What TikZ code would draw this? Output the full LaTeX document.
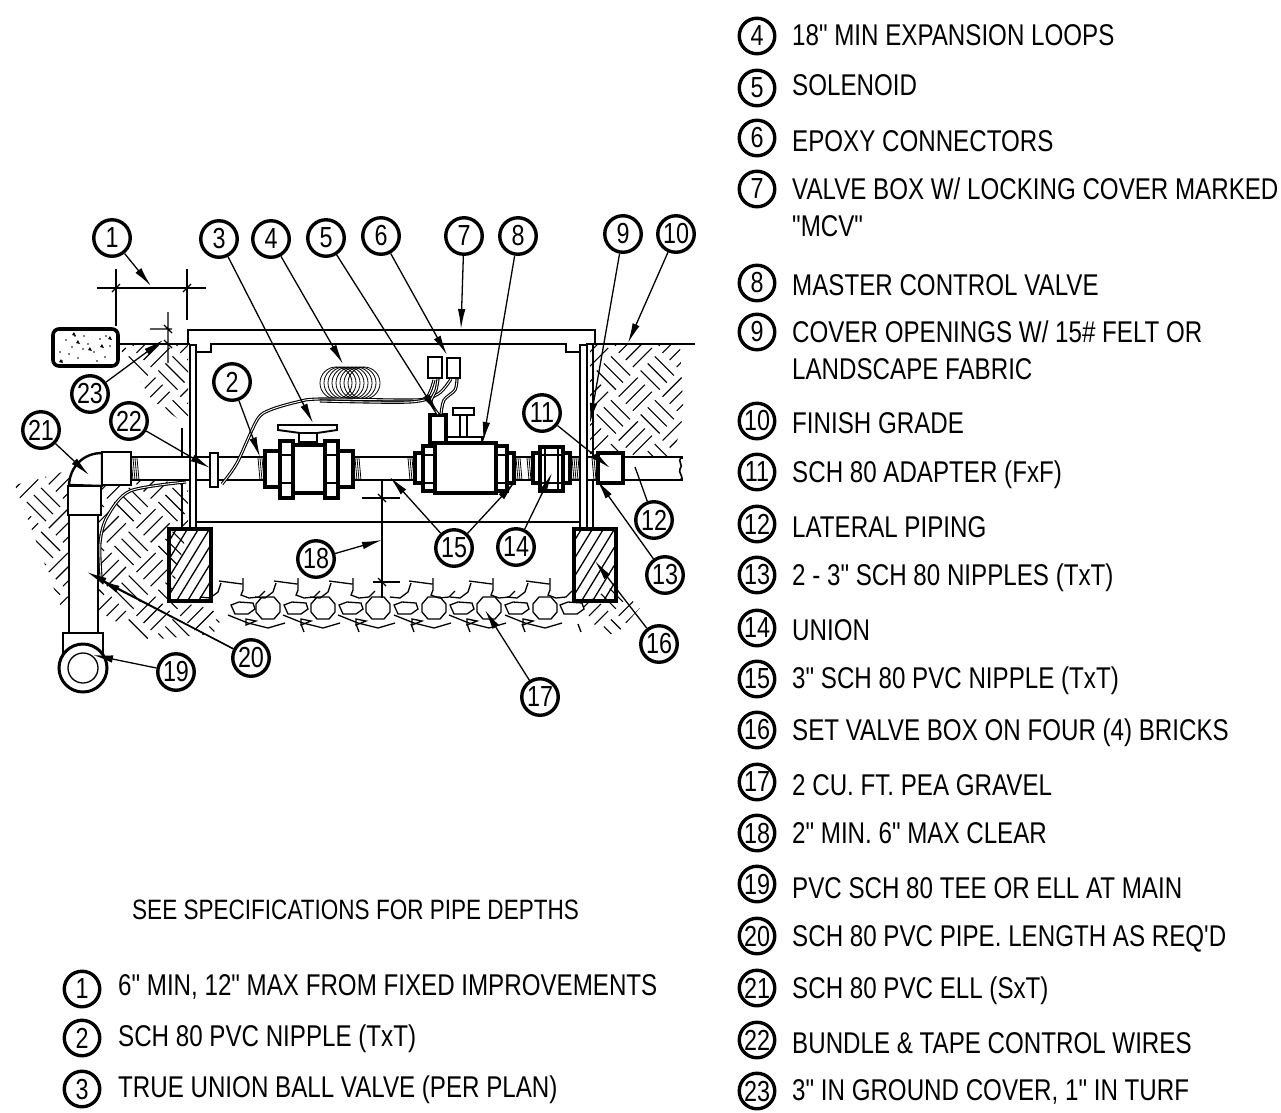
\documentclass[tikz,border=0pt]{standalone}
\usepackage{fontspec}
\setmainfont[FakeStretch=0.805,Ligatures=TeXOff]{Liberation Sans}
\usetikzlibrary{arrows.meta}
\tikzset{
	callout/.style={circle, draw, fill=white, line width=3.4pt, minimum size=36.5pt, inner sep=0pt, font=\fontsize{29}{29}\selectfont},
	legendmark/.style={circle, draw, fill=white, line width=3.4pt, minimum size=35.5pt, inner sep=0pt, font=\fontsize{29}{29}\selectfont},
	legendtext/.style={anchor=base west, align=left, inner sep=0pt, font=\fontsize{30}{37}\selectfont},
	leader/.style={line width=1.3pt, -{Latex[length=20pt,width=7.5pt]}},
	plainleader/.style={line width=1.3pt},
	body/.style={draw, fill=white, line width=3.2pt},
	pipewall/.style={draw, fill=white, line width=2.4pt},
	slimline/.style={line width=1.3pt},
	hatchline/.style={line width=1.1pt},
	medline/.style={line width=1.9pt},
	wirepair/.style={double, double distance=.9pt, line width=1.1pt}
}
\newcommand{\threadmark}[2]{
	\foreach \tx in {0,2,...,#2}
		\draw[line width=.8pt] (#1+\tx,458) -- (#1+\tx+2,480);
}
\begin{document}
\begin{tikzpicture}[x=1pt,y=-1pt]
	\useasboundingbox (0,0) rectangle (1281,1112);

	% soil
	\begin{scope}
		\clip (118,345) -- (188,345) -- (188,426) -- (152,400) -- cycle
			(15,485) -- (70,470) -- (188,484) -- (188,528) -- (170,600) -- (225,612) -- (213,634) -- (147,640) -- (100,612) -- (62,610) -- cycle
			(590,345) -- (680,345) -- (684,420) -- (672,456) -- (590,456) -- cycle
			(616,585) -- (640,608) -- (620,630) -- (603,638) -- (582,605) -- cycle;
		\foreach \i in {-15,...,8}
			\foreach \j in {7,...,31}{
				\pgfmathtruncatemacro{\cellkind}{mod(\i+\j+40,2)}
				\begin{scope}[rotate=45,shift={(\i*31,\j*31)}]
					\ifnum\cellkind=0
						\foreach \k in {5,15,25}
							\draw[hatchline] (2,\k) -- (29,\k);
					\else
						\foreach \k in {5,15,25}
							\draw[hatchline] (\k,2) -- (\k,29);
					\fi
				\end{scope}
			}
	\end{scope}

	% gravel
	\foreach \ox in {268,323,378,434,489,545}{
		\draw[slimline] (\ox-12,604) -- (\ox-6,597) -- (\ox+6,597) -- (\ox+12,604) -- (\ox+12,612) -- (\ox+6,619) -- (\ox-6,619) -- (\ox-12,612) -- cycle;
		\draw[slimline] (\ox-40,615) -- (\ox-20,623) -- (\ox,628) -- (\ox+17,623);
		\draw[slimline] (\ox+33,624) -- (\ox+36,632);
		\draw[slimline] (\ox-22,619) -- (\ox-12,621) -- (\ox-22,625) -- cycle;
	}
	\foreach \lx in {243,296,351,406,462,517,572}
		\draw[slimline] (\lx-12,605) -- (\lx-4,602) -- (\lx+10,603) -- (\lx+12,609) -- (\lx+5,614) -- (\lx-8,614) -- cycle;
	\foreach \sx in {213,268,323,403,463,520}
		\draw[slimline] (\sx-13,597) -- (\sx-3,598) -- (\sx+5,592) -- (\sx+8,583) (\sx+6,581) -- (\sx+29,584) (\sx+30,578) -- (\sx+30,590) -- (\sx+28,595) -- (\sx+36,598) -- (\sx+46,597) -- (\sx+52,591);

	% grade and valve box
	\draw[medline] (118,344) -- (190,344);
	\draw[medline] (586,344) -- (695,344);
	\draw[medline] (188,344) -- (188,330) -- (595,330) -- (595,344);
	\draw[medline] (197,352) -- (211,352) -- (211,344) -- (566,344) -- (566,352) -- (580,352);
	\draw[medline] (197,522) -- (580,522);
	\draw[medline] (182,428) -- (182,458) (182,482) -- (182,528);
	\draw[medline] (593,345) -- (593,528);

	% paving block
	\draw[fill=white, line width=3.6pt, rounded corners=6pt] (53,329) rectangle (118,366);
	\foreach \dx/\dy in {60/352,66/340,72/347,78/358,84/336,88/344,94/352,100/339,105/357,110/346,75/336,97/361,62/361,83/349,69/354,106/336}
		\fill (\dx,\dy) circle (.9);
	\foreach \dx/\dy in {72/335,76/343,88/350,108/339,100/347,59/362}
		\fill (\dx,\dy) -- ++(4,1) -- ++(-2,-4) -- cycle;

	% vertical pipe and fittings
	\draw[pipewall] (69,485) .. controls (70,466) and (84,453) .. (102,453) -- (102,486) -- cycle;
	\draw[pipewall] (69,515) rectangle (98,633);
	\draw[pipewall] (68,486) rectangle (101,515);
	\draw[pipewall] (63,633) rectangle (103,656);
	\draw[line width=3pt, fill=white] (83,668) circle (24);
	\draw[slimline] (83,668) circle (15);

	% wire to the main
	\draw[wirepair] plot[smooth] coordinates {(186,482) (130,491) (107,517) (100,543) (101,577)};

	% horizontal pipe
	\draw[pipewall] (131,457) rectangle (682,480);
	\draw[line width=3.2pt, white] (681,459) -- (681,478);
	\draw[line width=1.6pt] (681,457) .. controls (677,462) and (684,465) .. (680,469) .. controls (678,473) and (684,476) .. (681,480);
	\draw[pipewall] (102,452) rectangle (131,485);
	\threadmark{131}{6}
	\draw[line width=2.6pt, fill=white] (210,453) rectangle (218,487);
	\threadmark{258}{4}
	\threadmark{353}{6}
	\threadmark{408}{6}
	\threadmark{514}{6}
	\threadmark{527}{6}
	\threadmark{570}{8}
	\threadmark{592}{6}

	% ball valve
	\draw[body] (265,451) rectangle (280,487);
	\draw[body] (338,451) rectangle (353,487);
	\draw[body] (280,441) rectangle (293,498);
	\draw[body] (325,441) rectangle (338,498);
	\draw[body] (293,445) rectangle (325,493);
	\draw[slimline] (280,455) -- (293,455) (325,455) -- (338,455) (280,483) -- (293,483) (325,483) -- (338,483);
	\draw[medline, fill=white] (299,433) rectangle (317,442);
	\draw[medline, fill=white] (278,425) -- (337,425) -- (337,430) -- (317,433) -- (300,433) -- (278,430) -- cycle;

	% master control valve
	\draw[body] (415,453) rectangle (423,483);
	\draw[body] (507,453) rectangle (514,483);
	\draw[body] (423,446) rectangle (435,491);
	\draw[body] (496,446) rectangle (507,491);
	\draw[slimline] (423,455) -- (435,455) (423,483) -- (435,483) (496,455) -- (507,455) (496,483) -- (507,483);
	\draw[medline, fill=white] (447,437) rectangle (482,443);
	\draw[medline, fill=white] (460,415) rectangle (467,437);
	\draw[medline, fill=white] (453,408) rectangle (474,415);
	\draw[body] (435,443) rectangle (496,493);
	\draw[body] (430,415) rectangle (446,443);

	% union and adapter
	\draw[body] (533,453) rectangle (540,483);
	\draw[body] (563,453) rectangle (570,483);
	\draw[body] (540,447) rectangle (563,491);
	\draw[slimline] (540,455) -- (563,455) (540,483) -- (563,483) (545,447) -- (545,491) (558,447) -- (558,491);
	\draw[body] (598,453) rectangle (623,483);

	% box walls and bricks
	\draw[line width=2.8pt, fill=white] (190,345) rectangle (196,529);
	\draw[line width=2.8pt, fill=white] (580,345) rectangle (587,529);
	\begin{scope}
		\clip (169,529) rectangle (211,601);
		\foreach \h in {-4,-3,...,6}
			\draw[slimline] (160+\h*11,610) -- (215+\h*11,520);
	\end{scope}
	\draw[line width=3.2pt] (169,529) rectangle (211,601);
	\begin{scope}
		\clip (574,529) rectangle (616,601);
		\foreach \h in {-4,-3,...,6}
			\draw[slimline] (565+\h*11,610) -- (620+\h*11,520);
	\end{scope}
	\draw[line width=3.2pt] (574,529) rectangle (616,601);

	% coil, connectors and wires
	\foreach \cx in {336,340,...,364}
		\draw[line width=.8pt] (\cx,383) circle (16);
	\draw[medline] (428,357) rectangle (442,378);
	\draw[medline] (447,358) rectangle (460,378);
	\draw[wirepair] plot[smooth] coordinates {(222,484) (237,463) (257,420) (270,410) (297,402) (320,399) (410,400) (427,397) (434,380)};
	\draw[wirepair] plot[smooth] coordinates {(320,401) (410,402) (438,394) (451,379)};
	\draw[wirepair] plot[smooth] coordinates {(438,414) (431,402) (436,390) (438,379)};
	\draw[wirepair] plot[smooth] coordinates {(441,414) (444,400) (455,390) (457,379)};

	% dimensions
	\draw[slimline] (97,288) -- (206,288) (116,269) -- (116,326) (187,269) -- (187,320);
	\draw[slimline] (112,292) -- (120,284) (183,292) -- (191,284);
	\draw[slimline] (168,312) -- (168,363) (150,329) -- (172,329) (164,325) -- (172,333) (164,340) -- (172,348);
	\draw[slimline] (382,480) -- (382,598) (362,498) -- (400,498) (373,582) -- (400,582);
	\draw[slimline] (378,494) -- (386,502) (378,578) -- (386,586);

	% tips of the leaders
	\coordinate (tip1) at (151,286);
	\coordinate (tip2) at (260,457);
	\coordinate (tip3) at (313,423);
	\coordinate (tip4) at (343,364);
	\coordinate (tip5) at (437,413);
	\coordinate (tip6) at (447,355);
	\coordinate (tip7) at (461,329);
	\coordinate (tip8) at (483,442);
	\coordinate (tip9) at (590,423);
	\coordinate (tip10) at (628,343);
	\coordinate (tip11) at (610,468);
	\coordinate (tip12) at (635,467);
	\coordinate (tip13) at (597,480);
	\coordinate (tip14) at (552,473);
	\coordinate (tip15a) at (390,477);
	\coordinate (tip15b) at (515,482);
	\coordinate (tip16) at (595,561);
	\coordinate (tip17) at (485,610);
	\coordinate (tip18) at (382,540);
	\coordinate (tip19) at (93,655);
	\coordinate (tip20a) at (87,572);
	\coordinate (tip20b) at (100,580);
	\coordinate (tip21) at (89,475);
	\coordinate (tip22) at (210,468);
	\coordinate (tip23) at (163,340);

	% callouts on the drawing
	\foreach \n/\x/\y in {1/112/238,2/232/382,3/219/239,4/271/239,5/326/238,6/381/236,7/464/236,8/518/236,9/623/234,10/676/234,11/542/413,12/654/520,13/665/575,14/516/547,15/454/548,16/659/644,17/540/697,18/316/559,19/176/672,20/251/658,21/41/430,22/129/421,23/90/394}
		\node[callout] (call\n) at (\x,\y) {\n};
	\foreach \n/\tp in {1/tip1,2/tip2,3/tip3,4/tip4,5/tip5,6/tip6,7/tip7,8/tip8,9/tip9,10/tip10,11/tip11,13/tip13,14/tip14,15/tip15a,15/tip15b,16/tip16,17/tip17,18/tip18,19/tip19,20/tip20a,20/tip20b,21/tip21,22/tip22,23/tip23}
		\draw[leader] (call\n) -- (\tp);
	\draw[plainleader] (call12) -- (tip12);

	% legend
	\foreach \n/\x/\y in {1/82/989,2/82/1038,3/82/1089,4/757/36,5/757/88,6/757/138,7/757/189,8/757/283,9/757/332,10/757/421,11/757/472,12/757/524,13/757/575,14/757/628,15/757/679,16/757/730,17/757/782,18/757/833,19/757/884,20/757/936,21/757/988,22/757/1040,23/757/1091}
		\node[legendmark] (item\n) at (\x,\y) {\n};
	\foreach \n/\x/\y/\lab in {
		1/118/995/{6" MIN, 12" MAX FROM FIXED IMPROVEMENTS},
		2/118/1046/{SCH 80 PVC NIPPLE (TxT)},
		3/118/1097/{TRUE UNION BALL VALVE (PER PLAN)},
		4/792/45/{18" MIN EXPANSION LOOPS},
		5/792/95/{SOLENOID},
		6/792/151/{EPOXY CONNECTORS},
		7/792/236/{VALVE BOX W/ LOCKING COVER MARKED\\"MCV"},
		8/792/295/{MASTER CONTROL VALVE},
		9/792/379/{COVER OPENINGS W/ 15\# FELT OR\\LANDSCAPE FABRIC},
		10/792/433/{FINISH GRADE},
		11/792/482/{SCH 80 ADAPTER (FxF)},
		12/792/537/{LATERAL PIPING},
		13/792/585/{2 - 3" SCH 80 NIPPLES (TxT)},
		14/792/640/{UNION},
		15/792/688/{3" SCH 80 PVC NIPPLE (TxT)},
		16/792/740/{SET VALVE BOX ON FOUR (4) BRICKS},
		17/792/795/{2 CU. FT. PEA GRAVEL},
		18/792/843/{2" MIN. 6" MAX CLEAR},
		19/792/898/{PVC SCH 80 TEE OR ELL AT MAIN},
		20/792/946/{SCH 80 PVC PIPE. LENGTH AS REQ'D},
		21/792/998/{SCH 80 PVC ELL (SxT)},
		22/792/1053/{BUNDLE \& TAPE CONTROL WIRES},
		23/792/1100/{3" IN GROUND COVER, 1" IN TURF}}
		\node[legendtext] (text\n) at (\x,\y) {\lab};
	\node[legendtext, font=\fontsize{28}{28}\selectfont] (depths) at (132,919) {SEE SPECIFICATIONS FOR PIPE DEPTHS};
\end{tikzpicture}
\end{document}
